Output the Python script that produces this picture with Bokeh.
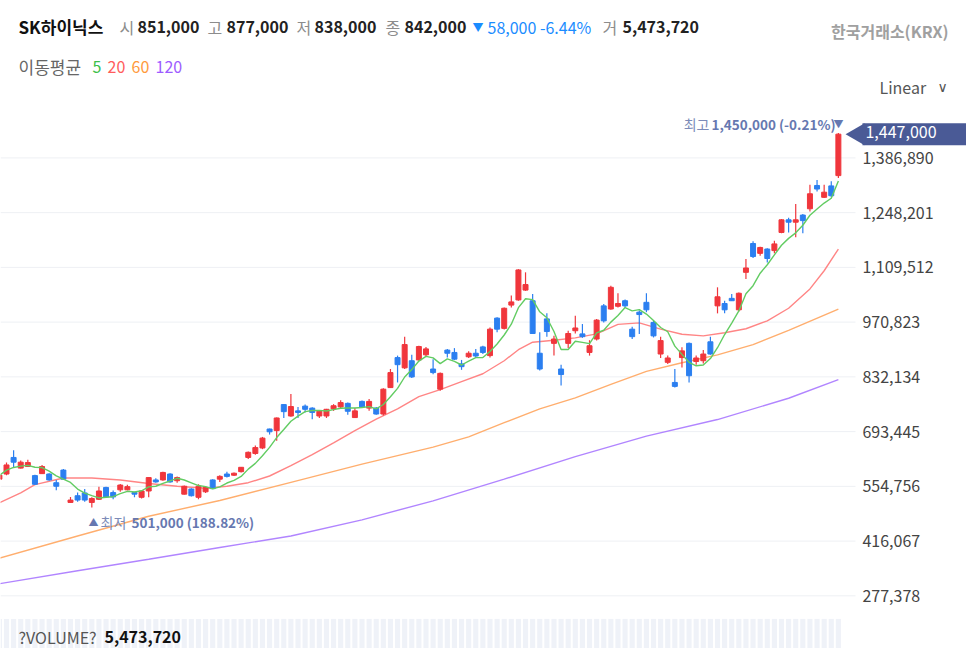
import numpy as np
import pandas as pd
from bokeh.plotting import figure
from bokeh.models import Range1d, Label, ColumnDataSource
from bokeh.core.properties import value
from bokeh.embed import file_html
from bokeh.resources import INLINE

# ---------------- data (prices in thousand KRW) ----------------
idx = list(range(-1, 118))
opens = [573, 586, 628, 601, 605, 582, 587, 586, 564, 596, 514, 531, 538, 514, 522, 552, 539, 546, 546, 539,
         527, 543, 571, 571, 586, 569, 535, 548, 527, 541, 571, 573, 586, 583, 592, 628, 638, 652, 700, 696,
         762, 733, 746, 758, 753, 733, 733, 751, 756, 765, 729, 770, 753, 753, 738, 805, 881, 855, 873, 875,
         888, 852, 801, 900, 894, 865, 883, 892, 908, 886, 981, 955, 1014, 1027, 1052, 1025, 892, 979, 917, 852,
         917, 949, 941, 894, 928, 1012, 1004, 1011, 1025, 953, 996, 1021, 970, 890, 869, 818, 881, 917, 871, 873,
         921, 1012, 1018, 1031, 1002, 1097, 1170, 1145, 1156, 1152, 1198, 1230, 1224, 1242, 1258, 1317, 1287, 1316, 1342]
highs = [585, 615, 646, 620, 622, 584, 609, 588, 571, 599, 528, 539, 548, 527, 554, 554, 544, 561, 559, 541,
         544, 578, 575, 592, 588, 580, 557, 550, 560, 555, 573, 583, 592, 590, 604, 643, 658, 680, 701, 729,
         763, 789, 756, 762, 755, 748, 751, 763, 773, 767, 753, 772, 776, 756, 803, 852, 886, 934, 888, 911,
         908, 877, 843, 903, 905, 875, 897, 903, 911, 957, 983, 1008, 1038, 1105, 1097, 1042, 945, 993, 936, 863,
         949, 987, 966, 925, 979, 1017, 1063, 1044, 1028, 959, 1000, 1044, 974, 934, 886, 852, 907, 919, 886, 900,
         934, 1059, 1025, 1042, 1046, 1131, 1176, 1162, 1158, 1177, 1232, 1235, 1270, 1245, 1319, 1331, 1319, 1328, 1450]
lows = [571, 583, 603, 600, 604, 558, 586, 569, 545, 571, 513, 516, 516, 501, 520, 526, 522, 541, 545, 527,
        524, 527, 564, 569, 564, 564, 534, 529, 522, 538, 548, 566, 577, 581, 590, 624, 635, 649, 686, 670,
        728, 731, 728, 742, 725, 728, 728, 746, 753, 736, 728, 753, 746, 736, 734, 804, 818, 852, 829, 873,
        883, 839, 797, 881, 875, 850, 880, 881, 890, 881, 945, 952, 1008, 1025, 1050, 941, 848, 934, 886, 810,
        905, 942, 931, 886, 924, 970, 1002, 1008, 1007, 928, 941, 996, 932, 880, 865, 805, 856, 818, 863, 866,
        888, 993, 993, 1025, 998, 1080, 1133, 1139, 1122, 1145, 1196, 1198, 1186, 1196, 1251, 1302, 1285, 1287, 1336]
closes = [583, 609, 616, 616, 615, 560, 605, 571, 555, 573, 520, 520, 520, 524, 543, 528, 528, 558, 554, 535,
          543, 577, 566, 590, 566, 577, 555, 531, 555, 552, 549, 580, 580, 588, 603, 641, 653, 677, 693, 728,
          744, 757, 742, 750, 742, 745, 750, 759, 767, 745, 746, 756, 770, 738, 801, 843, 863, 914, 832, 909,
          903, 843, 841, 892, 877, 858, 892, 885, 894, 953, 953, 1006, 1022, 1103, 1066, 942, 852, 947, 928, 838,
          942, 956, 934, 911, 976, 974, 1059, 1018, 1012, 934, 990, 1002, 936, 924, 880, 808, 898, 835, 880, 890,
          890, 1035, 1002, 1025, 1044, 1108, 1137, 1160, 1132, 1169, 1230, 1224, 1230, 1228, 1296, 1308, 1300, 1291, 1447]

ma20_idx = [-1, 2, 4, 8, 12, 16, 20, 24, 28, 31, 34, 37, 40, 43, 46, 49, 52, 55, 58, 61,
            64, 67, 70, 72, 74, 77, 80, 83, 86, 89, 92, 95, 98, 101, 104, 107, 110, 113, 115, 117]
ma20_val = [513, 538, 559, 576, 576, 571, 562, 555, 550, 555, 564, 581, 607, 635, 665, 696, 725, 751, 782, 800,
            820, 840, 873, 901, 920, 925, 931, 941, 965, 969, 953, 940, 936, 944, 954, 974, 1006, 1055, 1101, 1156]
ma60_idx = [-1, 10, 20, 30, 40, 50, 60, 65, 70, 75, 80, 85, 90, 95, 100, 105, 110, 117]
ma60_val = [373, 429, 479, 519, 565, 611, 654, 680, 716, 751, 779, 813, 846, 868, 888, 914, 950, 1004]
ma120_idx = [-1, 10, 20, 30, 40, 50, 60, 70, 80, 90, 100, 110, 117]
ma120_val = [308, 341, 370, 400, 429, 470, 518, 573, 630, 682, 724, 778, 825]

y_ticks = [277378, 416067, 554756, 693445, 832134, 970823, 1109512, 1248201, 1386890]
y_tick_labels = [f"{t:,}" for t in y_ticks]
last_close = 1447000
volume_pane_top = 219000

# ---------------- layout constants ----------------
W, H = 966, 648
X_LEFT, X_RIGHT = -0.844, 135.02          # index range across the canvas
X_FRAME_END = 119.41                       # right end of the price pane
X_AXIS_TEXT = 120.39                       # price-axis label column
X_BADGE_ARROW = 119.8
Y_BOTTOM, Y_TOP = 143966, 1785646
FONT = "Noto Sans CJK KR"

K = 1000
RED, BLUE = "#f0363c", "#2b7ff0"
BADGE = "#4a5a96"

df = pd.DataFrame(dict(i=idx, o=np.array(opens) * K, h=np.array(highs) * K,
                       l=np.array(lows) * K, c=np.array(closes) * K))
df["col"] = np.where(df.c >= df.o, RED, BLUE)
df["top"] = df[["o", "c"]].max(axis=1)
df["bot"] = df[["o", "c"]].min(axis=1)
df["vtop"] = volume_pane_top
df["vbot"] = Y_BOTTOM
ma5 = df.c.rolling(5, min_periods=1).mean()
src = ColumnDataSource(df)

p = figure(width=W, height=H, output_backend="svg", toolbar_location=None,
           x_range=Range1d(X_LEFT, X_RIGHT), y_range=Range1d(Y_BOTTOM, Y_TOP),
           x_axis_type=None, y_axis_type=None, min_border=0)
p.min_border_left = p.min_border_right = p.min_border_top = p.min_border_bottom = 0
p.outline_line_color = None
p.background_fill_color = "white"
p.border_fill_color = "white"

# price grid lines + price-axis labels (from the tick list)
p.segment(x0=X_LEFT, x1=X_FRAME_END, y0=y_ticks, y1=y_ticks, line_color="#eef0f4", line_width=1)
p.text(x=[X_AXIS_TEXT] * len(y_ticks), y=y_ticks, text=y_tick_labels, text_font=value(FONT),
       text_font_size="16px", text_color="#444444", text_baseline="middle", text_align="left")

# volume pane (tops of the bars)
p.vbar(x="i", top="vtop", bottom="vbot", width=0.72, fill_color="#eff2f8", line_color=None, source=src)

# moving averages
p.line(ma120_idx, np.array(ma120_val) * K, line_color="#b185ff", line_width=1.4)
p.line(ma60_idx, np.array(ma60_val) * K, line_color="#ffae6e", line_width=1.4)
p.line(ma20_idx, np.array(ma20_val) * K, line_color="#ff8585", line_width=1.4)

# candles
p.segment(x0="i", y0="l", x1="i", y1="h", line_color="col", line_width=1.2, source=src)
p.vbar(x="i", top="top", bottom="bot", width=0.7, fill_color="col", line_color="col", source=src)

p.line(df.i, ma5, line_color="#62cc62", line_width=1.4)

# last price badge
p.scatter([X_BADGE_ARROW], [last_close], marker="triangle", angle=np.pi / 2, size=22,
          fill_color=BADGE, line_color=None)
p.add_layout(Label(x=X_AXIS_TEXT, y=last_close, text=f"{last_close:,}", text_font=FONT,
                   text_font_size="16px", text_color="white", text_baseline="middle",
                   background_fill_color=BADGE, padding=(3, 40, 3, 7)))


def lab(text, px, py, size="16px", color="#333333", style="normal", align="left", font=FONT):
    p.add_layout(Label(x=px, y=H - py, x_units="screen", y_units="screen", text=text,
                       text_font=font, text_font_size=size, text_color=color,
                       text_font_style=style, text_align=align, text_baseline="middle"))


G = "#8c8c8c"
D = "#222222"
# header line 1
lab("SK하이닉스", 18, 26, size="17px", color="#111111", style="bold")
lab("시", 119, 26, color=G)
lab("851,000", 137, 26, color=D, style="bold")
lab("고", 207, 26, color=G)
lab("877,000", 226, 26, color=D, style="bold")
lab("저", 296, 26, color=G)
lab("838,000", 314, 26, color=D, style="bold")
lab("종", 385, 26, color=G)
lab("842,000", 404, 26, color=D, style="bold")
lab("▼", 472, 26, size="11px", color="#1a8cff")
lab("58,000 -6.44%", 487, 26, color="#1a8cff")
lab("거", 602, 26, color=G)
lab("5,473,720", 622, 26, color=D, style="bold")
# header line 2
lab("이동평균", 18, 66, size="17px", color="#666666")
lab("5", 92, 66, color="#3cbf4a")
lab("20", 107, 66, color="#ff5c5c")
lab("60", 131, 66, color="#ff9a3c")
lab("120", 155, 66, color="#9d5cff")
# right side
lab("한국거래소(KRX)", 948, 30, color="#a0a0a0", style="bold", align="right")
lab("Linear", 879, 86, color="#555555")
lab("∨", 942, 86, size="14px", color="#555555", align="center", font="DejaVu Sans")
# high / low markers
HC = "#6678b0"
lab("▼", 843, 123, size="10px", color=HC, align="right")
lab("1,450,000 (-0.21%)", 835, 123, size="13.5px", color=HC, style="bold", align="right")
lab("최고", 709, 123, size="14px", color="#7c8bb8", align="right")
lab("▲", 88, 521, size="10px", color=HC)
lab("최저", 100, 521, size="14px", color="#7c8bb8")
lab("501,000 (188.82%)", 131, 521, size="13.5px", color=HC, style="bold")
# volume caption
lab("?VOLUME?", 18, 636, color="#555555")
lab("5,473,720", 104, 636, color="#111111", style="bold")

open("out.html", "w").write(file_html(p, INLINE))
